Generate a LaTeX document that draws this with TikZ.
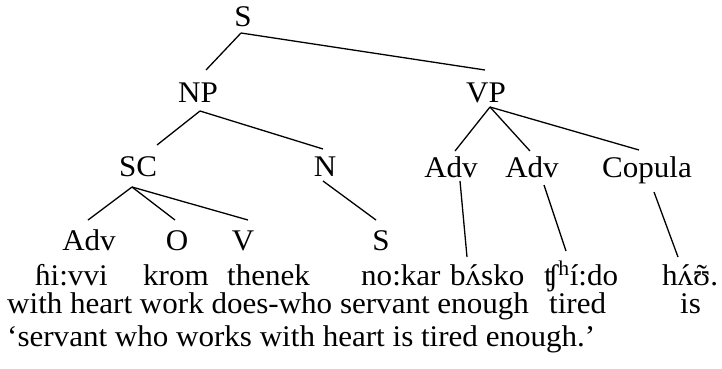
\documentclass[tikz,border=0pt]{standalone}
\usepackage{fontspec}
\setmainfont{Liberation Serif}[FakeStretch=1.035]
\usetikzlibrary{calc}
\newcommand{\ipaover}[2]{\leavevmode\hbox{\ooalign{#1\cr\hidewidth#2\hidewidth\cr}}}
\begin{document}
\begin{tikzpicture}[x=1pt,y=-1pt,
  every node/.style={font=\fontsize{30}{32}\selectfont, inner sep=0pt},
  cat/.style={anchor=base},
  word/.style={anchor=base west},
  branch/.style={line width=1.3pt}]
\useasboundingbox (0,0) rectangle (722,369);
% categories
\node[cat] (s) at (243,27) {S};
\node[cat] (np) at (198,102) {NP};
\node[cat] (vp) at (486,102) {VP};
\node[cat] (sc) at (138,176) {SC};
\node[cat] (n) at (325,176) {N};
\node[cat] (adva) at (451,177) {Adv};
\node[cat] (advb) at (532,177) {Adv};
\node[cat] (cop) at (647,177) {Copula};
\node[cat] (advc) at (89,250) {Adv};
\node[cat] (o) at (177,250) {O};
\node[cat] (v) at (243,250) {V};
\node[cat] (s2) at (381,250) {S};
% words
\node[word] (w1) at (35,285) {ɦi:vvi};
\node[word] (w2) at (143,285) {krom};
\node[word] (w3) at (227,285) {thenek};
\node[word] (w4) at (361,285) {no:kar};
\node[word] (w5) at (450,285) {b\ipaover{ʌ}{´}sko};
\node[word] (w6) at (544,285) {ʧ\textsuperscript{h}í:do};
\node[word] (w7) at (662,285) {h\ipaover{ʌ}{´}\ipaover{ʊ}{˜}.};
% gloss
\node[word] (g1) at (7,313) {with heart work does-who servant enough};
\node[word] (g2) at (549,313) {tired};
\node[word] (g3) at (680,313) {is};
\node[word] (tr) at (7,346) {‘servant who works with heart is tired enough.’};
% branches
\draw[branch] ($(s.base)+(-2,6)$) -- ($(np.base)+(8,-32)$);
\draw[branch] ($(s.base)+(-2,6)$) -- ($(vp.base)+(-1,-32)$);
\draw[branch] ($(np.base)+(2,9)$) -- ($(sc.base)+(19,-31)$);
\draw[branch] ($(np.base)+(2,9)$) -- ($(n.base)+(-2,-27)$);
\draw[branch] ($(vp.base)+(4,5)$) -- ($(adva.base)+(4,-26)$);
\draw[branch] ($(vp.base)+(4,5)$) -- ($(advb.base)+(-2,-26)$);
\draw[branch] ($(vp.base)+(4,5)$) -- ($(cop.base)+(-8,-27)$);
\draw[branch] ($(sc.base)+(-6,11)$) -- ($(advc.base)+(-1,-30)$);
\draw[branch] ($(sc.base)+(-6,11)$) -- ($(o.base)+(-2,-30)$);
\draw[branch] ($(sc.base)+(-6,11)$) -- ($(v.base)+(5,-30)$);
\draw[branch] ($(n.base)+(-2,5)$) -- ($(s2.base)+(-5,-30)$);
\draw[branch] ($(adva.base)+(9,4)$) -- ($(w5.base west)+(17,-28)$);
\draw[branch] ($(advb.base)+(12,8)$) -- ($(w6.base west)+(22,-34)$);
\draw[branch] ($(cop.base)+(7,15)$) -- ($(w7.base west)+(16,-28)$);
\end{tikzpicture}
\end{document}
